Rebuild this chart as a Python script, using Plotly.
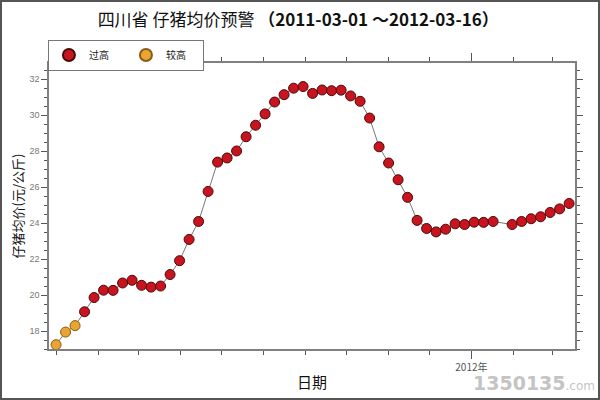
import plotly.graph_objects as go
import pandas as pd

# Weekly observation dates (one week missing around Spring Festival 2012)
start = pd.Timestamp("2011-03-01")
dates = [start + pd.Timedelta(days=7 * i) for i in range(47)] + \
        [start + pd.Timedelta(days=7 * i) for i in range(48, 55)]
dates = [d.strftime("%Y-%m-%d") for d in dates]

prices = [17.24, 17.94, 18.30, 19.07, 19.86, 20.27, 20.26, 20.67, 20.82, 20.54,
          20.44, 20.50, 21.14, 21.91, 23.09, 24.09, 25.76, 27.39, 27.62, 28.01,
          28.80, 29.44, 30.07, 30.73, 31.14, 31.50, 31.59, 31.21, 31.40, 31.36,
          31.39, 31.07, 30.77, 29.84, 28.24, 27.34, 26.41, 25.43, 24.15, 23.70,
          23.51, 23.66, 23.96, 23.92, 24.05, 24.04, 24.09, 23.92, 24.09, 24.24,
          24.35, 24.59, 24.79, 25.09]

levels = ["较高"] * 3 + ["过高"] * (len(prices) - 3)

level_names = ["过高", "较高"]
level_fill = {"过高": "#C8141E", "较高": "#E9A431"}
level_edge = {"过高": "#4A0A0A", "较高": "#8A5A14"}

title_main = "四川省 仔猪均价预警"
title_range = "（2011-03-01 ～2012-03-16）"
x_title = "日期"
y_title = "仔猪均价(元/公斤)"
x_tickvals = ["2012-01-01"]
x_ticktext = ["2012年"]

cjk = "Noto Sans CJK SC"

fig = go.Figure()
fig.add_trace(go.Scatter(x=dates, y=prices, mode="lines",
                         line=dict(color="#777777", width=1),
                         showlegend=False, hoverinfo="skip"))
for name in level_names:
    xs = [d for d, l in zip(dates, levels) if l == name]
    ys = [p for p, l in zip(prices, levels) if l == name]
    fig.add_trace(go.Scatter(
        x=xs, y=ys, mode="markers", name=name,
        marker=dict(size=10, color=level_fill[name],
                    line=dict(color=level_edge[name], width=1))))

fig.update_layout(
    width=600, height=400,
    margin=dict(l=49, r=25, t=63, b=51, autoexpand=False),
    paper_bgcolor="white", plot_bgcolor="white",
    title=dict(
        text=f"{title_main} <b>{title_range}</b>",
        x=0.497, xanchor="center", y=0.950, yanchor="middle",
        font=dict(family=cjk, size=17, color="#111111")),
    legend=dict(
        orientation="h", x=-0.002, y=1.082, xanchor="left", yanchor="top",
        bordercolor="#777777", borderwidth=1, bgcolor="white",
        font=dict(family=cjk, size=10, color="#222222"),
        entrywidth=32, entrywidthmode="pixels",
        itemsizing="constant", itemwidth=30, tracegroupgap=0),
    font=dict(family=cjk),
    showlegend=True,
)

fig.update_xaxes(
    type="date", automargin=False,
    range=["2011-02-23 19:00", "2012-03-17 08:00"],
    tickmode="array", tickvals=x_tickvals, ticktext=x_ticktext,
    ticks="outside", ticklen=8, tickcolor="#555555", tickwidth=1,
    minor=dict(dtick="M1", tick0="2011-03-01", ticks="outside",
               ticklen=4, tickcolor="#555555", showgrid=False),
    showgrid=False, zeroline=False,
    showline=True, linecolor="#808080", linewidth=1.5, mirror="allticks",
    tickfont=dict(family=cjk, size=10, color="#555555"),
    title=dict(text=x_title, font=dict(family=cjk, size=15, color="#111111"),
               standoff=5),
)
fig.update_yaxes(
    range=[17.0, 32.9], automargin=False,
    tickmode="linear", tick0=18, dtick=2,
    ticks="outside", ticklen=6, tickcolor="#555555", tickwidth=1,
    minor=dict(dtick=0.5, ticks="outside", ticklen=3, tickcolor="#555555",
               showgrid=False),
    showgrid=False, zeroline=False,
    showline=True, linecolor="#808080", linewidth=1.5, mirror="allticks",
    tickfont=dict(family="Liberation Sans", size=9, color="#777777"),
    title=dict(text=y_title, font=dict(family=cjk, size=13, color="#111111"),
               standoff=3),
)

# outer frame around the whole picture
pw, ph = 600 - 49 - 25, 400 - 63 - 51
fig.add_shape(type="rect", xref="paper", yref="paper",
              x0=-48 / pw, x1=1 + 24 / pw, y0=-50 / ph, y1=1 + 62 / ph,
              line=dict(color="#555555", width=2), fillcolor="rgba(0,0,0,0)",
              layer="above")

# watermark
fig.add_annotation(xref="paper", yref="paper", x=1 + 22 / pw, y=-47 / ph,
                   xanchor="right", yanchor="bottom",
                   text="<b>1350135</b><span style='font-size:12px'>.com</span>",
                   showarrow=False,
                   font=dict(family="DejaVu Sans", size=19, color="#C4C4C4"))

fig.write_html(
    "out.html",
    config={"displayModeBar": False},
    post_script="document.body.style.margin='0';document.body.style.overflow='hidden';",
)
